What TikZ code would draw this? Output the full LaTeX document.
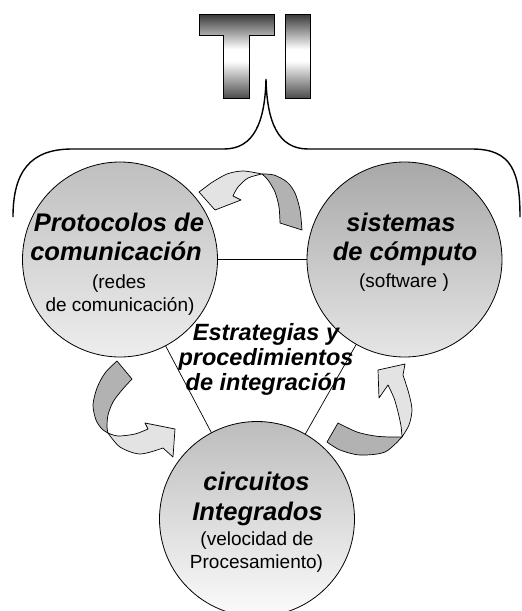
\documentclass[tikz,border=0pt]{standalone}
\usepackage{fontspec}
\setmainfont{Liberation Sans}
\usetikzlibrary{backgrounds}
\definecolor{tidarktop}{gray}{0.22}
\definecolor{tidarkbot}{gray}{0.30}
\pgfdeclareverticalshading{tishade}{100bp}{color(0bp)=(tidarkbot); color(25bp)=(tidarkbot); color(47bp)=(white); color(54bp)=(white); color(75bp)=(tidarktop); color(100bp)=(tidarktop)}
\tikzset{
  bub/.style={circle, draw=black, line width=0.8pt, inner sep=0pt, minimum size=195pt},
  hd/.style={font=\fontsize{25.5}{30}\selectfont\bfseries\itshape, anchor=base, inner sep=0pt},
  nm/.style={font=\fontsize{19}{23}\selectfont, anchor=base, inner sep=0pt},
  ct/.style={font=\fontsize{23.5}{25}\selectfont\bfseries\itshape, anchor=base, inner sep=0pt},
  darkface/.style={fill=gray!60, draw=black, line width=0.7pt, line join=round},
  lightface/.style={fill=gray!22, draw=black, line width=0.7pt, line join=round},
  bracestyle/.style={draw=black, line width=1.4pt},
}
\begin{document}
\begin{tikzpicture}[x=1pt, y=-1pt]
\useasboundingbox (0,0) rectangle (522,611);

% brace
\path[bracestyle] (13,217) .. controls (13,172) and (30,149) .. (72,149)
  -- (224,149) .. controls (254,149) and (265,122) .. (266,79)
  .. controls (267,122) and (278,149) .. (308,149)
  -- (472,149) .. controls (512,149) and (520,172) .. (520,217);

% TI letters
\shadedraw[shading=tishade, draw=black, line width=0.6pt]
  (199,14) -- (274,14) -- (274,35) -- (249,35) -- (249,98) -- (223,98) -- (223,35) -- (199,35) -- cycle
  (285,14) rectangle (310,98);

% circles
\node[bub, top color=gray!50, bottom color=gray!14] (L) at (120,259.5) {};
\node[bub, top color=gray!68, bottom color=gray!20] (R) at (404.5,259.5) {};
\node[bub, top color=gray!52, bottom color=gray!3] (B) at (257,519) {};

\begin{pgfonlayer}{background}
\draw[line width=0.7pt] (L.center) -- (R.center) -- (B.center) -- (L.center);
\end{pgfonlayer}

% texts left
\node[hd] (l1) at (119,231) {Protocolos de};
\node[hd] (l2) at (116,260) {comunicación};
\node[nm] (l3) at (119,288) {(redes};
\node[nm] (l4) at (120,311) {de comunicación)};
% texts right
\node[hd] (r1) at (401,231) {sistemas};
\node[hd] (r2) at (405,260) {de cómputo};
\node[nm] (r3) at (404,287) {(software )};
% texts bottom
\node[hd] (b1) at (256.5,490) {circuitos};
\node[hd] (b2) at (257.5,520) {Integrados};
\node[nm] (b3) at (257,545) {(velocidad de};
\node[nm] (b4) at (256.5,568) {Procesamiento)};
% center
\node[ct] (c1) at (266,340) {Estrategias y};
\node[ct] (c2) at (266,365) {procedimientos};
\node[ct] (c3) at (266,390) {de integración};

% arrow top
\path[darkface] (280,223) -- (302,230)
  -- plot[smooth] coordinates {(302,230) (300,210) (295,193) (287,182) (274,175) (262,174)}
  -- plot[smooth] coordinates {(262,174) (268,180) (275,192) (279,207) (280,223)} -- cycle;
\path[lightface] (262,174)
  -- plot[smooth] coordinates {(262,174) (243,171) (227,174) (211,183)}
  -- (199,192) -- (215,210) -- (241,200) -- (233,196)
  -- plot[smooth] coordinates {(233,196) (238,187) (248,178) (262,174)} -- cycle;

% arrow left
\path[darkface] (117,361) -- (132,379)
  -- plot[smooth] coordinates {(132,379) (122,390) (113,402) (108,415) (107,427) (108,433)}
  -- plot[smooth] coordinates {(108,433) (102,429) (96,420) (93,405) (97,388) (105,373) (117,361)} -- cycle;
\path[lightface] (108,433)
  -- plot[smooth] coordinates {(108,433) (120,447) (140,454) (163,448)}
  -- (173,457) -- (175,429) -- (145,423) -- (148,429)
  -- plot[smooth] coordinates {(148,429) (135,434) (118,436) (108,433)} -- cycle;

% arrow right
\path[darkface] (338,423) -- (327,442)
  -- plot[smooth] coordinates {(327,442) (340,450) (360,455) (385,452) (402,437)}
  -- plot[smooth] coordinates {(402,437) (390,437) (375,436) (357,432) (338,423)} -- cycle;
\path[lightface] (402,437)
  -- plot[smooth] coordinates {(402,437) (409,425) (412,410) (409,394) (403,375)}
  -- (405,364) -- (378,370) -- (379,398) -- (388,385)
  -- plot[smooth] coordinates {(388,385) (394,398) (398,412) (401,426) (402,437)} -- cycle;
\end{tikzpicture}
\end{document}
